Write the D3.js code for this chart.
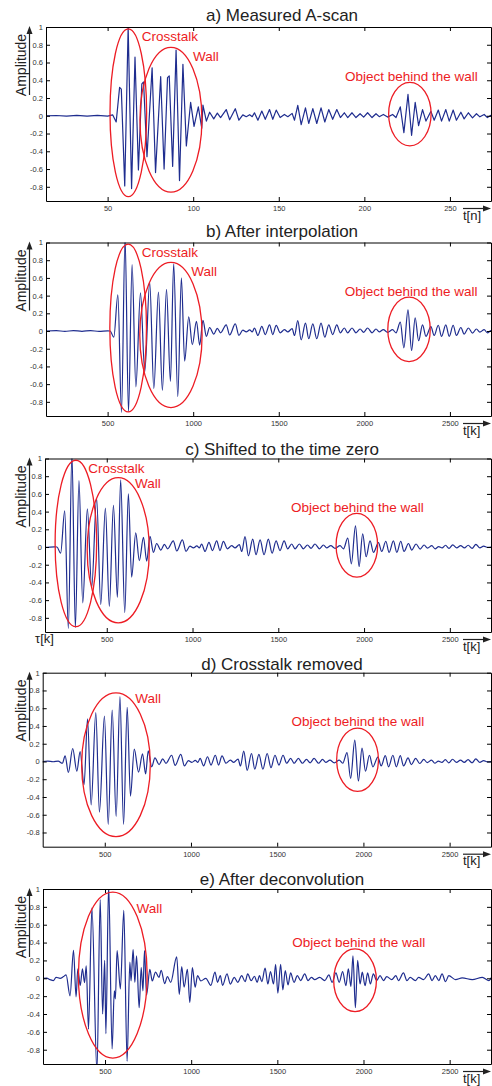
<!DOCTYPE html>
<html>
<head>
<meta charset="utf-8">
<script src="https://cdn.jsdelivr.net/npm/d3@7"></script>
<style>
body { margin: 0; background: #fff; }
svg { display: block; font-family: "Liberation Sans", Arial, sans-serif; }
</style>
</head>
<body>
<svg id="chart" width="492" height="1086"></svg>
<script>
// Panel titles and axis labels
const titles = ['a) Measured A-scan', 'b) After interpolation', 'c) Shifted to the time zero',
                'd) Crosstalk removed', 'e) After deconvolution'];
const xLabels = ['t[n]', 't[k]', 't[k]', 't[k]', 't[k]'];
const yTicks = [-0.8, -0.6, -0.4, -0.2, 0, 0.2, 0.4, 0.6, 0.8, 1];
const xTicksN = [50, 100, 150, 200, 250];
const xTicksK = [500, 1000, 1500, 2000, 2500];
const domainN = [14, 274];
const domainK = [140, 2740];
const yDomain = [-0.96, 1];

// one sample n = 10 interpolated samples k; time zero shift (in k)
const nToK = 10;
const tauShift = 305;

// a) measured A-scan, start of the trace (sample index n)
const aHeadN = [14, 20, 26, 32, 38, 44, 50, 53, 55, 57, 58, 60, 62, 64, 66, 68, 70, 71, 73, 76, 78, 81, 83, 85, 86,
                88, 90, 92, 94, 96, 98.5, 100.5, 103, 105];
const aHeadV = [0, 0.003, -0.004, 0.005, -0.003, 0.004, -0.003, 0.01, -0.07, 0.32, 0.30, -0.79, 1.0, -0.82, 0.66,
                -0.61, 0.36, 0.38, -0.46, 0.54, -0.64, 0.44, -0.60, 0.43, 0.45, -0.57, 0.74, -0.73, 0.58, -0.34,
                0.15, -0.12, 0.10, -0.14];

// b) interpolated trace, crosstalk + wall part (k)
const bHeadK = [140, 200, 250, 300, 350, 400, 450, 500, 515, 536, 560, 581, 602, 622, 643, 665, 692, 717, 746, 770,
                797, 820, 844, 867, 886, 910, 931, 950, 974, 995, 1019, 1038];
const bHeadV = [0, 0.004, -0.004, 0.005, -0.003, 0.005, -0.004, 0.002, 0, -0.07, 0.41, -0.92, 1.05, -0.91, 0.75,
                -0.63, 0.43, -0.46, 0.55, -0.65, 0.44, -0.67, 0.47, -0.57, 0.76, -0.74, 0.60, -0.34, 0.16, -0.155,
                0.11, -0.16];

// remaining trace after the wall (k), same in a-d; beyond 2740 only seen in c and d
const tailK = [1057, 1077, 1096, 1120, 1141, 1160, 1193, 1213, 1246, 1267, 1290, 1310, 1330, 1345, 1358, 1378, 1401,
               1421, 1446, 1465, 1485, 1508, 1533, 1553, 1578, 1592, 1611, 1631, 1656, 1675, 1699, 1722, 1747, 1769,
               1792, 1815, 1839, 1860, 1883, 1903, 1928, 1951, 1975, 1996, 2019, 2045, 2068, 2087, 2111, 2136, 2165,
               2185, 2210, 2231, 2255, 2276, 2297, 2317, 2340, 2360, 2389, 2408, 2432, 2451, 2476, 2496, 2519, 2538,
               2564, 2583, 2608, 2632, 2655, 2675, 2700, 2719, 2740, 2760, 2780, 2800, 2822, 2845, 2868, 2890, 2912,
               2935, 2957, 2980, 3002, 3025, 3050];
const tailV = [0.12, -0.06, 0.04, -0.035, 0.03, -0.02, 0.07, -0.045, 0.08, -0.05, 0.01, -0.01, 0.012, -0.01, 0.034,
               -0.05, 0.053, -0.04, 0.07, -0.04, 0.064, -0.02, 0.015, -0.01, 0.027, -0.05, 0.117, -0.1, 0.09, -0.087,
               0.08, -0.087, 0.09, -0.07, 0.07, -0.04, 0.07, -0.02, 0.034, -0.02, 0.034, -0.02, 0.023, -0.015, 0.034,
               -0.02, 0.023, -0.01, 0.015, -0.015, 0.015, -0.02, 0.1, -0.19, 0.24, -0.22, 0.15, -0.11, 0.07, -0.06,
               0.05, -0.05, 0.065, -0.06, 0.07, -0.06, 0.065, -0.05, 0.04, -0.035, 0.034, -0.023, 0.023, -0.012,
               0.015, -0.02, 0.005, -0.01, 0.02, -0.015, 0.025, -0.01, 0.015, -0.01, 0.02, -0.015, 0.03, -0.01, 0.01,
               -0.005, 0];

// d) crosstalk removed, wall part (tau)
const dHeadK = [140, 170, 200, 230, 254, 270, 289, 314, 338, 357, 380, 400, 421, 448, 469, 498, 520, 543, 566, 588,
                609, 630, 649, 671, 696, 719, 737];
const dHeadV = [0, 0.004, -0.003, 0.004, -0.02, 0.064, -0.124, 0.146, -0.11, 0.11, -0.26, 0.48, -0.49, 0.55, -0.57,
                0.51, -0.71, 0.58, -0.62, 0.73, -0.71, 0.61, -0.39, 0.14, -0.12, 0.086, -0.14];

// e) after deconvolution (tau)
const eK = [142, 161, 181, 200, 216, 239, 259, 274, 297, 317, 332, 342, 356, 369, 381, 391, 404, 424, 453, 472, 486,
            498, 505, 521, 541, 554, 560, 570, 589, 609, 628, 644, 651, 663, 673, 683, 698, 710, 720, 729, 741, 760,
            774, 793, 813, 826, 846, 862, 881, 916, 931, 945, 959, 978, 992, 1007, 1023, 1037, 1056, 1085, 1114,
            1138, 1153, 1169, 1182, 1208, 1227, 1250, 1270, 1293, 1313, 1328, 1348, 1367, 1383, 1396, 1410, 1429,
            1445, 1460, 1478, 1490, 1503, 1519, 1532, 1546, 1562, 1577, 1597, 1616, 1635, 1659, 1678, 1698, 1717,
            1746, 1775, 1799, 1818, 1840, 1859, 1879, 1898, 1912, 1927, 1939, 1953, 1966, 1980, 1993, 2009, 2024,
            2040, 2057, 2077, 2096, 2116, 2135, 2164, 2188, 2203, 2232, 2252, 2271, 2301, 2320, 2349, 2378, 2398,
            2417, 2437, 2456, 2476, 2495, 2534, 2573, 2631, 2690, 2728, 2745];
const eV = [0, 0.002, -0.015, -0.026, 0.011, 0, 0.019, 0.038, -0.196, 0.313, -0.208, 0.106, -0.08, 0.106, -0.05,
            0.14, -0.57, 0.79, -1.05, 0.88, -0.4, 0.2, -0.62, 1.05, -0.79, -0.14, -0.23, 0.31, -0.12, 0.76, -0.93,
            0.18, -0.03, 0.32, -0.045, 0.25, -0.33, 0.12, -0.14, 0.31, -0.19, 0.1, -0.03, 0.07, 0.01, 0.09, -0.06,
            0.02, -0.045, 0.24, -0.18, 0.13, -0.1, 0.1, -0.27, 0.12, -0.1, 0.03, -0.03, 0, -0.08, 0.07, -0.045, 0.03,
            -0.08, 0.05, -0.065, 0.01, -0.045, 0.03, -0.038, 0.049, -0.026, 0.023, -0.045, 0.03, -0.038, 0.113,
            -0.064, 0.075, -0.064, 0.155, -0.166, 0.155, -0.13, 0.087, -0.075, 0.06, -0.045, 0.03, -0.026, 0.049,
            -0.026, 0.011, -0.015, 0.011, -0.026, 0.038, -0.045, 0.06, -0.045, 0.075, -0.083, 0.106, -0.09, 0.25,
            -0.33, 0.2, -0.064, 0.068, -0.083, 0.06, -0.064, 0.049, -0.026, 0.03, -0.026, 0.019, -0.015, 0.03,
            -0.026, 0.06, -0.026, 0.011, -0.026, 0.011, -0.015, 0.049, -0.026, 0.03, -0.026, 0.049, -0.038, 0.03,
            -0.015, 0.004, -0.015, 0.011, -0.026, 0.02];

// annotations: ellipses [t, v, rt, rv] and labels [text, t, v] in data units
const ellipses = [
    [[62.1, 0.034, 10.7, 0.944], [87.0, -0.045, 18.1, 0.815], [226.6, 0.019, 12.4, 0.357]],
    [[620, 0.034, 107, 0.947], [870, -0.045, 182, 0.82], [2261, 0.018, 124, 0.364]],
    [[320, 0.04, 121, 0.94], [567, -0.037, 181, 0.82], [1958, 0.02, 121, 0.36]],
    [[565, -0.037, 199, 0.81], [1966, 0.019, 121, 0.356]],
    [[545, 0.036, 199.5, 0.93], [1951, -0.022, 124, 0.352]]
];
const labels = [
    [['Crosstalk', 69.9, 0.89], ['Wall', 99.9, 0.665], ['Object behind the wall', 188.7, 0.45]],
    [['Crosstalk', 699, 0.886], ['Wall', 989, 0.67], ['Object behind the wall', 1885, 0.45]],
    [['Crosstalk', 392, 0.888], ['Wall', 665, 0.725], ['Object behind the wall', 1574, 0.453]],
    [['Wall', 677, 0.708], ['Object behind the wall', 1583, 0.449]],
    [['Wall', 683, 0.787], ['Object behind the wall', 1587, 0.404]]
];

// Panel frames (pixels)
const right = 491;
const layout = [
    {top: 27, bottom: 201, left: 46, titleY: 20.5},
    {top: 242.5, bottom: 416, left: 46, titleY: 236.5},
    {top: 458.5, bottom: 632, left: 45, titleY: 455},
    {top: 672.7, bottom: 846.7, left: 42.7, titleY: 670},
    {top: 889, bottom: 1064, left: 43, titleY: 885}
];

const signalColor = '#1f2d8f';
const red = '#ed1c24';

function toPoints(ts, vs, scaleT, offset) {
    return ts.map((t, i) => ({t: t * scaleT - offset, v: vs[i]}));
}

const seriesA = toPoints(aHeadN, aHeadV, 1, 0).concat(toPoints(tailK, tailV, 1 / nToK, 0));
const seriesB = toPoints(bHeadK, bHeadV, 1, 0).concat(toPoints(tailK, tailV, 1, 0));
const seriesC = toPoints(bHeadK, bHeadV, 1, tauShift).concat(toPoints(tailK, tailV, 1, tauShift));
const seriesD = toPoints(dHeadK, dHeadV, 1, 0).concat(toPoints(tailK, tailV, 1, tauShift));
const seriesE = toPoints(eK, eV, 1, 0);

const svg = d3.select('#chart');
const fmtY = d => String(+d.toFixed(1));
const fmtX = d3.format('d');

function drawPanel(i, series, xDomain, xTicks, curve) {
    const L = layout[i];
    const x = d3.scaleLinear().domain(xDomain).range([L.left, right]);
    const y = d3.scaleLinear().domain(yDomain).range([L.bottom, L.top]);
    const g = svg.append('g');

    g.append('clipPath').attr('id', 'clip' + i)
        .append('rect')
        .attr('x', L.left).attr('y', L.top)
        .attr('width', right - L.left).attr('height', L.bottom - L.top);

    // Signal
    const line = d3.line().x(d => x(d.t)).y(d => y(d.v)).curve(curve);
    g.append('path')
        .datum(series)
        .attr('clip-path', `url(#clip${i})`)
        .attr('fill', 'none')
        .attr('stroke', signalColor)
        .attr('stroke-width', 1.2)
        .attr('stroke-linejoin', 'round')
        .attr('d', line);

    // Box with inward ticks
    g.append('g').attr('transform', `translate(0,${L.bottom})`)
        .call(d3.axisBottom(x).tickValues(xTicks).tickSizeInner(-4).tickSizeOuter(0).tickPadding(4.5).tickFormat(fmtX));
    g.append('g').attr('transform', `translate(0,${L.top})`)
        .call(d3.axisTop(x).tickValues(xTicks).tickSizeInner(-4).tickSizeOuter(0).tickFormat(''));
    g.append('g').attr('transform', `translate(${L.left},0)`)
        .call(d3.axisLeft(y).tickValues(yTicks).tickSizeInner(-4).tickSizeOuter(0).tickPadding(3).tickFormat(fmtY));
    g.append('g').attr('transform', `translate(${right},0)`)
        .call(d3.axisRight(y).tickValues(yTicks).tickSizeInner(-4).tickSizeOuter(0).tickFormat(''));
    g.selectAll('.domain, .tick line').attr('stroke', '#000').attr('stroke-width', 1);
    g.selectAll('.tick text')
        .attr('font-size', 7.5)
        .attr('font-family', '"Liberation Sans", Arial, sans-serif')
        .attr('fill', '#333');

    // Title
    g.append('text')
        .attr('x', 282).attr('y', L.titleY)
        .attr('text-anchor', 'middle')
        .attr('font-size', 17)
        .attr('fill', '#222')
        .text(titles[i]);

    // Y label with arrow
    const ax = 29.5;
    g.append('line')
        .attr('x1', ax).attr('x2', ax)
        .attr('y1', L.top + 68).attr('y2', L.top + 5)
        .attr('stroke', '#222').attr('stroke-width', 1.2);
    g.append('path')
        .attr('d', `M${ax},${L.top - 1}L${ax - 3},${L.top + 7}L${ax + 3},${L.top + 7}Z`)
        .attr('fill', '#222');
    g.append('text')
        .attr('transform', `translate(26,${L.top + 38}) rotate(-90)`)
        .attr('text-anchor', 'middle')
        .attr('font-size', 14)
        .attr('fill', '#222')
        .text('Amplitude');

    // X label with arrow
    const ay = L.bottom + 7.5;
    g.append('line')
        .attr('x1', 463).attr('x2', 485)
        .attr('y1', ay).attr('y2', ay)
        .attr('stroke', '#222').attr('stroke-width', 1.2);
    g.append('path')
        .attr('d', `M${right},${ay}L${right - 8},${ay - 3}L${right - 8},${ay + 3}Z`)
        .attr('fill', '#222');
    g.append('text')
        .attr('x', 463).attr('y', L.bottom + 18.5)
        .attr('font-size', 13)
        .attr('fill', '#222')
        .text(xLabels[i]);

    // Annotations
    ellipses[i].forEach(e => {
        g.append('ellipse')
            .attr('cx', x(e[0])).attr('cy', y(e[1]))
            .attr('rx', x(e[0] + e[2]) - x(e[0]))
            .attr('ry', y(e[1] - e[3]) - y(e[1]))
            .attr('fill', 'none')
            .attr('stroke', red)
            .attr('stroke-width', 1.3);
    });
    labels[i].forEach(l => {
        g.append('text')
            .attr('x', x(l[1])).attr('y', y(l[2]))
            .attr('dy', '0.35em')
            .attr('font-size', 13.5)
            .attr('fill', red)
            .text(l[0]);
    });
    return g;
}

drawPanel(0, seriesA, domainN, xTicksN, d3.curveLinear);
drawPanel(1, seriesB, domainK, xTicksK, d3.curveMonotoneX);
const gc = drawPanel(2, seriesC, domainK, xTicksK, d3.curveMonotoneX);
drawPanel(3, seriesD, domainK, xTicksK, d3.curveMonotoneX);
drawPanel(4, seriesE, domainK, xTicksK, d3.curveMonotoneX);

// tau axis label on panel c
gc.append('text')
    .attr('x', 35).attr('y', layout[2].bottom + 10.5)
    .attr('font-size', 13)
    .attr('fill', '#222')
    .text('τ[k]');
</script>
</body>
</html>
